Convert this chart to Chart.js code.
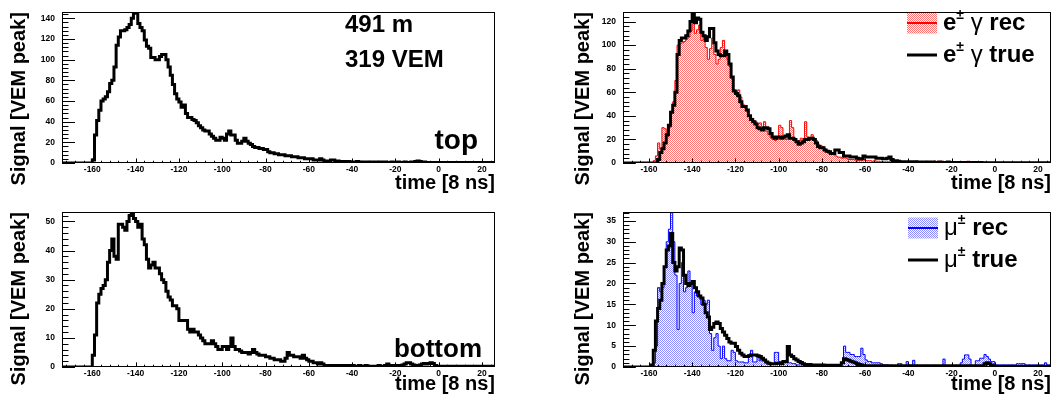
<!DOCTYPE html>
<html>
<head>
<meta charset="utf-8">
<script src="https://cdn.jsdelivr.net/npm/chart.js@4.4.1/dist/chart.umd.min.js"></script>
<style>
  html, body { margin: 0; padding: 0; background: #fff; }
  #wrap { position: relative; width: 1057px; height: 398px; overflow: hidden; }
  .cell { position: absolute; }
</style>
</head>
<body>
<div id="wrap">
  <div class="cell" style="left:0;top:0"><canvas id="topLeft" width="530" height="200"></canvas></div>
  <div class="cell" style="left:530px;top:0"><canvas id="topRight" width="527" height="200"></canvas></div>
  <div class="cell" style="left:0;top:200px"><canvas id="botLeft" width="530" height="198"></canvas></div>
  <div class="cell" style="left:530px;top:200px"><canvas id="botRight" width="527" height="198"></canvas></div>
</div>
<script>
const FONT = "'Liberation Sans', Arial, Helvetica, sans-serif";

// 1 bin = 1 time unit (8 ns); each array starts at its panel's low edge
const LEFT_X_MIN = -174;
const RIGHT_X_MIN = -172;
const X_MAX = 26;
const xTickLabels = [-160, -140, -120, -100, -80, -60, -40, -20, 0, 20];

// top detector, bins -174 .. 25
const topSignal = [
  0, 0, 0, 0, 0, 0, 0, 0, 0, 0,
  0, 0, 0, 0, 3, 27, 41, 51, 60, 62,
  64, 69, 77, 80, 93, 114, 122, 128, 128, 129,
  131, 134, 140, 145, 145, 135, 131, 128, 119, 113,
  111, 102, 102, 100, 100, 103, 105, 105, 100, 93,
  85, 76, 67, 62, 59, 54, 56, 48, 44, 44,
  42, 41, 39, 36, 34, 32, 31, 31, 28, 26,
  24, 22, 22, 25, 24, 22, 28, 31, 27, 27,
  22, 19, 19, 21, 24, 21, 19, 18, 16, 15,
  15, 14, 14, 13, 13, 11, 10, 10, 9, 9,
  8, 8, 8, 7, 7, 7, 6, 6, 6, 5,
  5, 5, 4, 4, 4, 4, 3, 3, 3, 4,
  3, 2, 2, 2, 3, 3, 2, 2, 1.5, 1.5,
  1.5, 1, 1.5, 1, 1, 1, 1.5, 1, 1, 1,
  1, 0.5, 1, 1, 0.5, 1, 1, 0.5, 1, 1,
  0.5, 0.5, 1, 0.5, 0.5, 1, 0.5, 0.5, 1, 0.5,
  0.5, 1, 1, 1.5, 2, 1.5, 1, 1, 0.5, 0.5,
  0.5, 0.5, 0.5, 0.5, 0.5, 0.5, 0, 0.5, 0.5, 0.5,
  0.5, 0, 0.5, 0.5, 0, 0.5, 0.5, 0.5, 0, 0.5,
  0.5, 0.5, 0, 0.5, 0.5, 0.5, 0, 0.5, 0.5, 0
];

// bottom detector, bins -174 .. 25
const bottomSignal = [
  0, 0, 0, 0, 0, 0, 0, 0, 0, 0,
  0, 0, 0, 0, 4, 11, 22, 25, 27, 28,
  30, 36, 40, 44, 38, 37, 49, 49, 48, 47,
  50, 52, 53, 51, 50, 48, 49, 44, 42, 37,
  34, 35, 36, 34, 34, 32, 30, 29, 26, 24,
  23, 21, 21, 20, 16, 16, 16, 16, 13, 12,
  13, 12, 12, 11, 10, 9, 8, 8, 8, 9,
  8, 7, 6, 6, 7, 7, 6, 7, 10, 7,
  6, 6, 5.5, 5, 5, 5, 4.5, 5, 6, 5,
  4.5, 4, 4, 4, 3.5, 3.5, 3, 3, 2.5, 2.5,
  2.5, 2, 2, 3, 5, 4, 4, 3.5, 3.5, 3.5,
  3, 4, 3, 2.5, 2, 2, 1.5, 1.5, 1, 1.5,
  1, 0.5, 0.5, 0.5, 0.5, 0.5, 0.3, 0.5, 0.5, 0.3,
  0.5, 0.5, 0.3, 0.5, 0.5, 0.3, 0.3, 0.5, 0.3, 0.3,
  0.5, 0.3, 0.3, 0.3, 0.3, 0.3, 0.5, 0.3, 0.3, 0.5,
  1, 0.5, 0.3, 0.5, 0.5, 0.5, 0.5, 0.7, 1, 1.5,
  1.5, 1, 0.7, 0.5, 0.5, 0.7, 1, 1.2, 1, 1.2,
  1.5, 1.2, 0.5, 0.3, 0.3, 0.3, 0.3, 0, 0.3, 0.3,
  0.3, 0, 0.3, 0.3, 0, 0.3, 0.3, 0, 0.3, 0.3,
  0, 0.3, 0.3, 0, 0.3, 0.3, 0, 0.3, 0, 0.3
];

// e+- gamma component, bins -172 .. 25
const emTrue = [
  0, 0, 0, 0, 0, 0, 0, 0,
  0, 0, 0, 0, 0, 0, 0, 0, 3, 9,
  12, 17, 24, 32, 43, 49, 60, 92, 104, 106,
  106, 108, 112, 120, 127, 119, 123, 122, 111, 108,
  104, 107, 114, 114, 102, 95, 92, 91, 91, 95,
  92, 84, 73, 61, 59, 57, 52, 48, 48, 45,
  40, 37, 35, 33, 30, 29, 28, 30, 30, 29,
  25, 22, 21, 22, 22, 21, 22, 23, 24, 21,
  21, 20, 18, 16, 17, 18, 20, 20, 21, 21,
  20, 17, 14, 13, 13, 11, 10, 9.5, 8, 8,
  11, 11, 9, 9, 6, 6, 6, 5, 5, 5,
  4, 3.5, 3.5, 6, 5, 5, 5, 5, 5, 4,
  4, 4, 3.5, 3.5, 4, 5, 3, 2, 2, 1.5,
  1, 1, 1, 1, 1, 1, 1, 1, 0.8, 0.8,
  0.8, 0.8, 0.8, 0.8, 0.5, 0.8, 0.5, 0.5, 0.8, 0.5,
  0.5, 0.5, 0.8, 0.5, 0.5, 0.5, 0.5, 0.5, 0.5, 0.5,
  0.5, 0.5, 0.5, 0.5, 0.5, 0.5, 0.5, 0.5, 0.3, 0.3,
  0.3, 0.3, 0.3, 0.3, 0.3, 0.3, 0.3, 0.3, 0.3, 0.3,
  0.3, 0.3, 0.3, 0.3, 0.3, 0.3, 0.3, 0.3, 0.3, 0.3,
  0.3, 0.3, 0.3, 0.3, 0.3, 0.3, 0.3, 0.3, 0.3, 0.3
];
const emRec = [
  0, 0, 0, 0, 0, 0, 0, 0,
  0, 0, 0, 0, 0, 0, 2, 6, 17, 12,
  30, 29, 22, 30, 44, 52, 70, 100, 101, 102,
  103, 105, 107, 112, 126, 110, 113, 117, 104, 107,
  98, 88, 97, 106, 92, 84, 88, 98, 104, 95,
  88, 82, 72, 62, 60, 62, 56, 50, 47, 44,
  40, 38, 36, 35, 33, 34, 30, 35, 27, 24,
  22, 20, 19, 20, 32, 30, 22, 20, 22, 36,
  30, 21, 18, 19, 21, 20, 35, 22, 20, 24,
  21, 19, 16, 15, 14, 12, 10, 8, 7, 8,
  6, 5, 5, 4, 5, 4, 3, 3, 3, 2.5,
  2, 2, 2, 3, 2, 2, 2, 1.5, 2, 1.5,
  1.5, 1, 1, 1, 1, 1, 1, 1, 1, 0.5,
  1, 0.5, 0.5, 1, 0.5, 0.5, 1, 1.5, 1, 0.5,
  1, 0.5, 1, 0.5, 0.5, 1, 1.5, 0.5, 1, 1.5,
  0.5, 0.5, 1, 0.5, 0.5, 0.5, 0.5, 0.5, 0.5, 0.5,
  1, 1.5, 0.5, 0.5, 0.5, 0.5, 0.5, 0.5, 0.5, 0.5,
  0.5, 0.3, 0.3, 0.3, 0.3, 0.3, 0.3, 0.3, 0.3, 0.3,
  0.3, 0.3, 0.3, 0.3, 0.3, 0.3, 0.3, 0.3, 0.3, 0.3,
  0.3, 0.3, 0.3, 0.3, 0.3, 0.3, 0.3, 0.3, 0.3, 0.3
];

// muon component, bins -172 .. 25
const muTrue = [
  0, 0, 0, 0, 0, 0, 0, 0,
  0, 0, 0, 0, 0, 0.5, 4, 11, 14, 16,
  20, 24, 28, 29, 32, 25, 23, 24, 28.5, 28,
  22, 20, 19.5, 20, 20.5, 19, 18, 17, 16.5, 15,
  13, 12, 9, 9.5, 10.4, 10.8, 10.4, 9.2, 8.4, 7.6,
  6.8, 6, 5.7, 5.7, 4.9, 4, 3.3, 2.9, 2.5, 2.5,
  2.7, 2.9, 2.9, 2.9, 2.7, 2.5, 2.1, 1.7, 1.2, 0.9,
  0.8, 0.8, 0.8, 0.9, 0.9, 0.8, 1.3, 1.3, 4.9, 2.9,
  2.5, 2, 1.7, 1.3, 1.1, 0.8, 0.6, 0.6, 0.6, 0.5,
  0.5, 0.5, 0.5, 0.5, 0.5, 0.4, 0.4, 0.4, 0.4, 0.4,
  0.4, 0.4, 0.4, 1, 2, 1.8, 1.6, 1.4, 1.2, 1,
  0.8, 0.6, 0.5, 0.3, 0.3, 0.3, 0.3, 0.3, 0.3, 0.3,
  0.3, 0.3, 0.3, 0.3, 0.3, 0.3, 0.3, 0.3, 0.3, 0.3,
  0.3, 0.3, 0.3, 0.3, 0.3, 0.3, 0.3, 0.3, 0.3, 0.3,
  0.3, 0.3, 0.3, 0.3, 0.3, 0.3, 0.3, 0.3, 0.3, 0.3,
  0.3, 0.3, 0.3, 0.3, 0.3, 0.3, 0.3, 0.3, 0.3, 0.3,
  0.3, 0.3, 0.3, 0.3, 0.3, 0.3, 0.3, 0.3, 0.3, 0.8,
  1, 0.8, 0.5, 0.3, 0.2, 0.2, 0.2, 0.2, 0.2, 0.2,
  0.2, 0.2, 0.2, 0.2, 0.2, 0.2, 0.2, 0.2, 0.2, 0.2,
  0.2, 0.2, 0.2, 0.2, 0.2, 0.2, 0.2, 0.2, 0.2, 0.2
];
const muRec = [
  0, 0, 0, 0, 0, 0, 0, 0,
  0, 0, 0, 0, 0, 0, 1, 5, 19, 18,
  19, 24, 30, 33, 37, 30, 22, 9, 20, 25,
  18, 19, 23, 20, 13, 18, 17, 17, 15, 16,
  15, 16, 8, 4, 7, 8, 5, 2, 5, 2,
  1.5, 1.5, 4, 3.5, 1.5, 1.2, 1.2, 1.2, 1, 1,
  3, 4, 1.2, 1.2, 2.5, 1.5, 2, 1.5, 1, 0.8,
  0.8, 0.8, 3.5, 3.5, 1.3, 1.3, 1.3, 1, 1, 1,
  0.8, 0.8, 0.5, 0.5, 0.5, 0.5, 0.5, 0.5, 0.3, 0.3,
  0.3, 0.3, 0.3, 0.3, 0.3, 0.3, 0.3, 0.3, 0.3, 0.3,
  0.3, 0.3, 0.5, 1, 5, 3.5, 3.5, 3, 3, 2.5,
  2.5, 2.5, 4.5, 3, 1.7, 1.3, 1.3, 1, 1, 1,
  1, 0.8, 0.5, 0.5, 0.5, 0.3, 0.3, 0.3, 0.3, 0.8,
  0.8, 0.3, 0.3, 1.3, 0.5, 0.3, 1.6, 0.3, 0.3, 0.3,
  0.3, 0.3, 0.3, 0.3, 0.3, 0.3, 0.3, 0.3, 0.3, 0.3,
  1.9, 0.3, 0.3, 0.3, 0.3, 0.3, 0.3, 0.3, 1, 1.9,
  2.9, 2.9, 1.9, 0.3, 0.3, 1.5, 1.5, 2.1, 2.1, 3,
  2.5, 1.9, 1.3, 1.3, 0.5, 0.5, 0.5, 0.5, 0.5, 0.5,
  0.5, 0.5, 0.5, 0.5, 0.8, 0.8, 0.8, 0.8, 0.5, 0.5,
  0.5, 0.5, 0.5, 0.5, 0.5, 0.5, 0.5, 1, 0.5, 0.5
];

// step histogram points: value of bin i held from edge i to edge i+1
function histPoints(start, values) {
  const pts = values.map((v, i) => ({ x: start + i, y: v }));
  pts.push({ x: start + values.length, y: values[values.length - 1] });
  return pts;
}

function checker(color) {
  const c = document.createElement('canvas');
  c.width = 2; c.height = 2;
  const g = c.getContext('2d');
  g.fillStyle = color;
  g.fillRect(0, 0, 1, 1);
  g.fillRect(1, 1, 1, 1);
  return g.createPattern(c, 'repeat');
}

function range(a, b, step) {
  const out = [];
  for (let v = a; v <= b + 1e-9; v += step) out.push(Math.round(v * 1000) / 1000);
  return out;
}

function drawParts(ctx, parts, x, y) {
  ctx.textBaseline = 'middle';
  ctx.textAlign = 'left';
  for (const p of parts) {
    ctx.font = p.font;
    ctx.fillText(p.text, x, y + (p.dy || 0));
    x += ctx.measureText(p.text).width;
  }
}

// ROOT-like frame, inward ticks, text and legend (config kept in closure)
function rootFrame(p) {
  return {
    id: 'rootFrame',
    afterDatasetsDraw(chart) {
      const { ctx, chartArea: a } = chart;
      const xs = chart.scales.x, ys = chart.scales.y;
      const w = a.right - a.left, h = a.bottom - a.top;
      ctx.save();
      ctx.strokeStyle = '#000';
      ctx.lineWidth = 1;
      ctx.beginPath();
      for (const v of range(Math.ceil(p.xMin / 4) * 4, X_MAX, 4)) {
        const px = Math.round(xs.getPixelForValue(v)) + 0.5;
        const len = xTickLabels.includes(v) ? 0.03 * h : 0.015 * h;
        ctx.moveTo(px, a.bottom);
        ctx.lineTo(px, a.bottom - len);
      }
      for (const v of range(0, p.yMax, p.yMinor)) {
        const py = Math.round(ys.getPixelForValue(v)) + 0.5;
        const len = p.yTicks.includes(v) ? 0.03 * w : 0.015 * w;
        ctx.moveTo(a.left, py);
        ctx.lineTo(a.left + len, py);
      }
      ctx.stroke();
      ctx.strokeRect(Math.round(a.left) + 0.5, Math.round(a.top) + 0.5,
                     Math.round(w) - 1, Math.round(h) - 1);

      ctx.fillStyle = '#000';
      for (const t of p.texts || []) {
        ctx.font = 'bold ' + t.size + 'px ' + FONT;
        ctx.textAlign = t.align;
        ctx.textBaseline = 'alphabetic';
        ctx.fillText(t.text, t.x, t.y);
      }

      for (const e of p.legend || []) {
        if (e.fill) {
          ctx.fillStyle = e.fill;
          ctx.fillRect(e.x, e.y - 10.5, 30, 21);
        }
        ctx.strokeStyle = e.color;
        ctx.lineWidth = e.width;
        ctx.beginPath();
        ctx.moveTo(e.x, e.y);
        ctx.lineTo(e.x + 30, e.y);
        ctx.stroke();
        ctx.fillStyle = '#000';
        drawParts(ctx, e.parts, e.x + 36, e.y);
      }
      ctx.restore();
    }
  };
}

function panel(id, p) {
  const datasets = p.series.map(s => ({
    data: histPoints(p.xMin, s.values),
    stepped: true,
    borderColor: s.color,
    borderWidth: s.width,
    borderJoinStyle: 'miter',
    backgroundColor: s.fill || 'transparent',
    fill: s.fill ? 'origin' : false,
    pointRadius: 0
  }));
  return new Chart(document.getElementById(id), {
    type: 'line',
    data: { datasets },
    plugins: [rootFrame(p)],
    options: {
      responsive: false,
      animation: false,
      events: [],
      layout: { autoPadding: false, padding: p.padding },
      plugins: { legend: { display: false }, tooltip: { enabled: false } },
      scales: {
        x: {
          type: 'linear', min: p.xMin, max: X_MAX,
          grid: { display: false, drawTicks: false }, border: { display: false },
          afterBuildTicks: s => { s.ticks = xTickLabels.map(v => ({ value: v })); },
          afterFit: s => { s.height = p.xHeight; },
          ticks: { padding: 2, color: '#000', font: { family: FONT, size: 8.5, weight: 'bold' },
                   maxRotation: 0, autoSkip: false, callback: v => String(v) },
          title: { display: true, text: 'time [8 ns]', align: 'end', color: '#000',
                   padding: { top: 0, bottom: p.xTitlePad },
                   font: { family: FONT, size: 20, weight: 'bold' } }
        },
        y: {
          type: 'linear', min: 0, max: p.yMax,
          grid: { display: false, drawTicks: false }, border: { display: false },
          afterBuildTicks: s => { s.ticks = p.yTicks.map(v => ({ value: v })); },
          afterFit: s => { s.width = p.yWidth; },
          ticks: { padding: 7, color: '#000', font: { family: FONT, size: 8.5, weight: 'bold' },
                   autoSkip: false, callback: v => String(v) },
          title: { display: true, text: 'Signal [VEM peak]', align: 'end', color: '#000',
                   padding: { top: p.yTitlePad, bottom: 0 },
                   font: { family: FONT, size: 20, weight: 'bold' } }
        }
      }
    }
  });
}

const B24 = 'bold 24px ' + FONT;
const R24 = '24px ' + FONT;
const SUP = 'bold 14px ' + FONT;
const redFill = checker('rgba(255,0,0,0.55)');
const blueFill = checker('rgba(0,0,255,0.45)');

panel('topLeft', {
  xMin: LEFT_X_MIN, yMax: 146, yTicks: [0, 20, 40, 60, 80, 100, 120, 140], yMinor: 4,
  padding: { left: 0, right: 35, top: 4, bottom: 0 }, yWidth: 62, xHeight: 37,
  xTitlePad: 5, yTitlePad: 7,
  series: [{ values: topSignal, color: '#000', width: 3 }],
  texts: [
    { text: '491 m', x: 345, y: 32, size: 24, align: 'left' },
    { text: '319 VEM', x: 345, y: 67, size: 24, align: 'left' },
    { text: 'top', x: 478, y: 149, size: 28, align: 'right' }
  ]
});

panel('botLeft', {
  xMin: LEFT_X_MIN, yMax: 53.2, yTicks: [0, 10, 20, 30, 40, 50], yMinor: 2,
  padding: { left: 0, right: 35, top: 10, bottom: 0 }, yWidth: 62, xHeight: 31,
  xTitlePad: 1.5, yTitlePad: 7,
  series: [{ values: bottomSignal, color: '#000', width: 3 }],
  texts: [{ text: 'bottom', x: 482, y: 157, size: 26, align: 'right' }]
});

panel('topRight', {
  xMin: RIGHT_X_MIN, yMax: 128, yTicks: [0, 20, 40, 60, 80, 100, 120], yMinor: 4,
  padding: { left: 0, right: 6, top: 4, bottom: 0 }, yWidth: 93, xHeight: 37,
  xTitlePad: 5, yTitlePad: 41,
  series: [
    { values: emTrue, color: '#000', width: 3 },
    { values: emRec, color: '#ff0000', width: 1, fill: redFill }
  ],
  legend: [
    { x: 377, y: 23, color: '#ff0000', width: 2, fill: redFill,
      parts: [{ text: 'e', font: B24 }, { text: '\u00b1', font: SUP, dy: -8 },
              { text: ' \u03b3', font: R24 }, { text: ' rec', font: B24 }] },
    { x: 377, y: 55, color: '#000', width: 3,
      parts: [{ text: 'e', font: B24 }, { text: '\u00b1', font: SUP, dy: -8 },
              { text: ' \u03b3', font: R24 }, { text: ' true', font: B24 }] }
  ]
});

panel('botRight', {
  xMin: RIGHT_X_MIN, yMax: 37.1, yTicks: [0, 5, 10, 15, 20, 25, 30, 35], yMinor: 1,
  padding: { left: 0, right: 6, top: 10, bottom: 0 }, yWidth: 93, xHeight: 31,
  xTitlePad: 1.5, yTitlePad: 41,
  series: [
    { values: muTrue, color: '#000', width: 3 },
    { values: muRec, color: '#0000ff', width: 1, fill: blueFill }
  ],
  legend: [
    { x: 378, y: 28, color: '#0000ff', width: 2, fill: blueFill,
      parts: [{ text: '\u03bc', font: R24 }, { text: '\u00b1', font: SUP, dy: -8 },
              { text: ' rec', font: B24 }] },
    { x: 378, y: 60, color: '#000', width: 3,
      parts: [{ text: '\u03bc', font: R24 }, { text: '\u00b1', font: SUP, dy: -8 },
              { text: ' true', font: B24 }] }
  ]
});
</script>
</body>
</html>
